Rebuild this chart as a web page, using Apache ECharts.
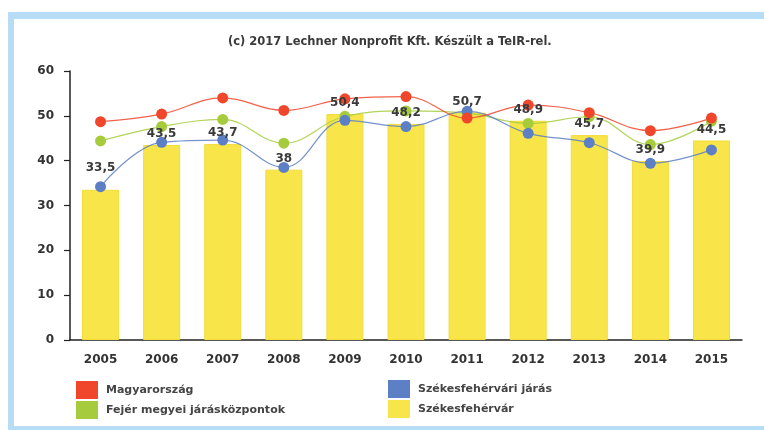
<!DOCTYPE html>
<html>
<head>
<meta charset="utf-8">
<script src="https://cdn.jsdelivr.net/npm/echarts@6/dist/echarts.min.js"></script>
<style>
html,body{margin:0;padding:0;background:#fff;}
#chart{width:764px;height:430px;}
</style>
</head>
<body>
<div id="chart"></div>
<script>
var years = ['2005','2006','2007','2008','2009','2010','2011','2012','2013','2014','2015'];
var szekesfehervar = [33.5, 43.5, 43.7, 38, 50.4, 48.2, 50.7, 48.9, 45.7, 39.9, 44.5];
var magyarorszag = [48.7, 50.4, 54.0, 51.2, 53.8, 54.3, 49.5, 52.4, 50.7, 46.7, 49.5];
var fejerKozpontok = [44.4, 47.6, 49.2, 43.9, 49.9, 51.1, 50.6, 48.3, 49.8, 43.6, 48.8];
var szfvJaras = [34.2, 44.1, 44.6, 38.5, 49.0, 47.6, 51.0, 46.1, 44.0, 39.4, 42.4];
var yTicks = [0, 10, 20, 30, 40, 50, 60];

var FONT = 'DejaVu Sans';
var C_RED = '#f0472c', C_GREEN = '#a6cc3e', C_BLUE = '#5c7fc6', C_YELLOW = '#f7e54a';

var chart = echarts.init(document.getElementById('chart'), null, {renderer: 'canvas'});

function lineSeries(name, data, color) {
  return {
    name: name, type: 'line', data: data, smooth: 0.4, z: 3,
    symbol: 'circle', symbolSize: 11,
    lineStyle: {color: color, width: 1.2, opacity: 0.85},
    itemStyle: {color: color},
    emphasis: {disabled: true}
  };
}

var labelData = szekesfehervar.map(function (v, i) {
  return i === 0 ? {value: v, label: {distance: 16}} : v;
});

var legendText = {fontFamily: FONT, fontSize: 11, fontWeight: 'bold', color: '#444', padding: [0, 0, 0, 3]};

chart.setOption({
  animation: false,
  backgroundColor: '#ffffff',
  textStyle: {fontFamily: FONT},
  title: {
    text: '(c) 2017 Lechner Nonprofit Kft. Készült a TeIR-rel.',
    left: 228, top: 36, padding: 0,
    textStyle: {fontFamily: FONT, fontSize: 11.5, fontWeight: 'bold', color: '#3a3a3a'}
  },
  grid: {left: 70, right: 22, top: 71, bottom: 90, containLabel: false},
  legend: [
    {
      data: ['Magyarország', 'Fejér megyei járásközpontok'],
      orient: 'vertical', left: 76, top: 381, itemGap: 2, padding: 0, height: 46,
      itemWidth: 22, itemHeight: 18, icon: 'rect', selectedMode: false,
      itemStyle: {borderWidth: 0},
      textStyle: legendText
    },
    {
      data: ['Székesfehérvári járás', 'Székesfehérvár'],
      orient: 'vertical', left: 388, top: 380, itemGap: 2, padding: 0, height: 46,
      itemWidth: 22, itemHeight: 18, icon: 'rect', selectedMode: false,
      itemStyle: {borderWidth: 0},
      textStyle: legendText
    }
  ],
  xAxis: {
    type: 'category', data: years, boundaryGap: true,
    axisLine: {lineStyle: {color: '#222', width: 1.5}},
    axisTick: {alignWithLabel: true, length: 6, lineStyle: {color: '#222', width: 1.2}},
    axisLabel: {fontFamily: FONT, fontSize: 12, fontWeight: 'bold', color: '#333', margin: 14}
  },
  yAxis: {
    type: 'value', min: yTicks[0], max: yTicks[yTicks.length - 1], interval: 10,
    axisLine: {show: true, lineStyle: {color: '#222', width: 1.5}},
    axisTick: {show: true, length: 6, lineStyle: {color: '#222', width: 1.2}},
    axisLabel: {fontFamily: FONT, fontSize: 12, fontWeight: 'bold', color: '#333', margin: 16},
    splitLine: {show: false}
  },
  series: [
    {
      name: 'Székesfehérvár', type: 'bar', data: szekesfehervar, barWidth: 37, z: 2,
      itemStyle: {color: C_YELLOW, borderColor: '#f3dc3a', borderWidth: 1},
      emphasis: {disabled: true}
    },
    lineSeries('Fejér megyei járásközpontok', fejerKozpontok, C_GREEN),
    lineSeries('Székesfehérvári járás', szfvJaras, C_BLUE),
    lineSeries('Magyarország', magyarorszag, C_RED),
    {
      name: 'labels', type: 'bar', data: labelData, barWidth: 37, barGap: '-100%', z: 6,
      silent: true,
      itemStyle: {color: 'rgba(0,0,0,0)'},
      label: {
        show: true, position: 'top', distance: 5,
        fontFamily: FONT, fontSize: 12, fontWeight: 'bold', color: '#3a3a3a',
        formatter: function (p) { return String(p.value).replace('.', ','); }
      },
      emphasis: {disabled: true}
    }
  ],
  graphic: [
    {type: 'rect', shape: {x: 8, y: 12, width: 756, height: 7}, style: {fill: '#b7dcf5'}, silent: true},
    {type: 'rect', shape: {x: 8, y: 12, width: 6, height: 418}, style: {fill: '#b7dcf5'}, silent: true},
    {type: 'rect', shape: {x: 8, y: 426, width: 756, height: 4}, style: {fill: '#b7dcf5'}, silent: true}
  ]
});
</script>
</body>
</html>
